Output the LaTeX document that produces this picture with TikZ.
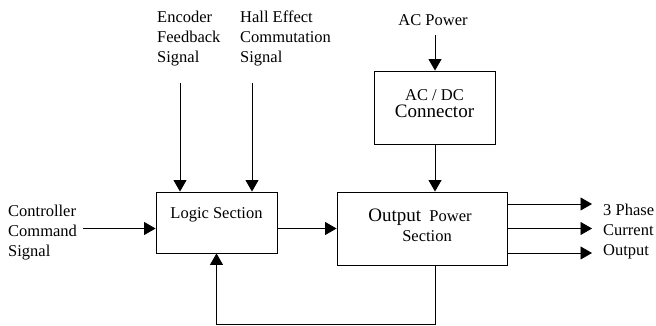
\documentclass[tikz,border=0pt]{standalone}
\usepackage{fontspec}
\setmainfont{Liberation Serif}
\usepackage{tikz}
\usetikzlibrary{arrows.meta, positioning, calc}

\begin{document}
\begin{tikzpicture}[
      x=1pt, y=-1pt,
      every node/.style={font=\fontsize{16.5}{20}\selectfont},
      blk/.style={rectangle, draw=black, line width=0.9pt, align=center},
      txt/.style={align=left, inner sep=0pt},
      sig/.style={draw=black, line width=0.9pt, -{Triangle[length=11.5pt, width=13pt]}},
    ]
    \useasboundingbox (0,0) rectangle (656,326);

    % Blocks
    \node[blk, minimum width=121, minimum height=61] (logic) at (216.5,222.5) {};
    \node[txt] (logictxt) at (216.5,215) {Logic Section};
    \node[blk, minimum width=170, minimum height=73] (output) at (422,228.5) {};
    \node[txt, align=center] (outtxt) at (420,225) {{\fontsize{19}{20}\selectfont Output}\ \ Power\\\hspace*{14pt}Section};
    \node[blk, minimum width=121, minimum height=73] (acdc) at (434.5,107.5) {};
    \node[txt, align=center, font=\fontsize{16.5}{17}\selectfont] (acdctxt) at (434.5,103.5) {AC / DC\\{\fontsize{19}{19}\selectfont Connector}};

    % Signal labels
    \node[txt, anchor=north west] (enc) at (157,11) {Encoder\\Feedback\\Signal};
    \node[txt, anchor=north west] (hall) at (240,11) {Hall Effect\\Commutation\\Signal};
    \node[txt] (acpow) at (433,20) {AC Power};
    \node[txt, anchor=west] (ctrl) at (8,233) {Controller\\Command\\Signal};
    \node[txt, anchor=west] (phase) at (603,232) {3 Phase\\Current\\Output};

    % Inputs from the top
    \coordinate (encin) at (180,83);
    \coordinate (hallin) at (252,83);
    \coordinate (acin) at (435,35);
    \draw[sig] (encin) -- (encin |- logic.north);
    \draw[sig] (hallin) -- (hallin |- logic.north);
    \draw[sig] (acin) -- (acin |- acdc.north);
    \draw[sig] (acin |- acdc.south) -- (acin |- output.north);

    % Command path
    \draw[sig] ([xshift=6pt]ctrl.east |- output.west) -- (logic.west |- output.west);
    \draw[sig] (logic.east |- output.west) -- (output.west);

    % Three phase outputs
    \foreach \dy in {-24.5,0,24.5}
      \draw[sig, shorten >=11pt] ([yshift=\dy]output.east) -- ([yshift=\dy]output.east -| phase.west);

    % Feedback loop
    \draw[sig] (acin |- output.south) -- ++(0,59) -| (logic.south);
  \end{tikzpicture}
\end{document}
